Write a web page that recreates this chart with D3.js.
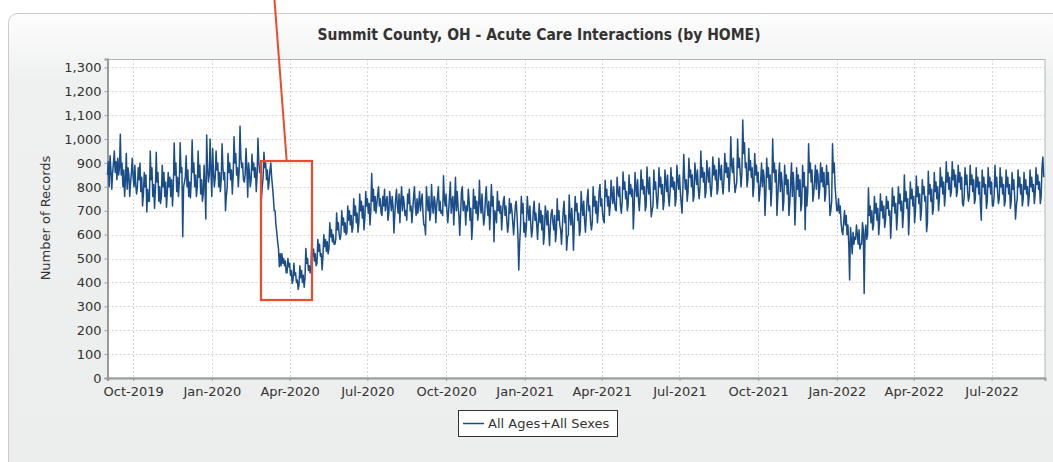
<!DOCTYPE html>
<html><head><meta charset="utf-8">
<script src="https://cdn.jsdelivr.net/npm/d3@7"></script>
<style>html,body{margin:0;padding:0;background:#fff;overflow:hidden}</style>
</head><body>
<svg id="chart" width="1053" height="462"></svg>
<script>
// Daily counts, starting Sun 1 Sep 2019 (rows are Sun..Sat weeks)
const counts2019 = [
850,905,800,930,870,790,860,
900,950,860,905,830,920,850,
880,1020,850,900,800,870,760,
830,940,790,880,850,760,820,
860,920,840,800,890,810,770,
800,880,830,900,780,840,720,
770,860,800,850,695,790,740,
740,950,830,880,760,810,710,
790,945,820,860,740,800,730,
760,890,800,860,760,820,715,
780,860,800,840,760,830,720,
800,983,850,900,780,840,760,
820,985,860,880,591,800,820,
840,930,800,870,760,820,753,
830,996,860,900,800,850,760,
800,950,840,890,770,830,740,
770,890,800,665,1017,880,820,
850,1000,870
];
const counts2020 = [
760,960,860,800,
840,950,870,900,800,860,780,
830,980,880,830,860,700,760,
800,940,860,900,830,870,770,
850,1010,900,940,850,880,800,
870,1054,920,880,900,830,820,
850,960,880,757,900,860,800,
830,936,870,900,840,880,780,
850,1003,900,860,880,750,800,
840,945,880,900,830,870,790,
820,870,900,840,800,755,700,
700,640,610,570,540,466,520,
470,520,480,500,470,490,440,
440,500,466,480,430,450,396,
410,480,430,440,400,410,371,
390,470,420,450,400,430,380,
420,542,480,500,450,470,440,
460,584,510,540,490,520,470,
480,580,530,560,510,520,452,
510,600,550,580,530,570,520,
540,650,590,620,570,600,560,
560,580,690,620,650,600,580,
600,700,640,670,610,650,600,
610,720,660,700,640,680,610,
630,750,680,720,650,690,610,
650,770,700,740,670,720,620,
670,780,720,750,690,730,640,
700,856,740,790,700,760,690,
730,770,800,720,750,690,680,
760,720,790,700,740,760,660,
690,780,740,700,760,720,607,
680,750,790,720,690,770,650,
740,800,700,760,730,680,700,
660,770,730,790,700,720,650,
700,760,800,720,680,750,690,
730,780,700,740,770,690,640,
640,600,800,740,700,760,660,
690,810,720,690,760,740,650,
720,760,800,700,740,690,700,
680,846,750,720,770,700,650,
700,760,820,690,740,760,640,
730,840,700,780,720,680,597,
690,780,800,700,740,720,640,
720,700,790,740,660,710,580,
640,790,710,760,690,740,660,
700,828,730,690,770,700,640,
670,750,800,720,680,740,620,
700,810,720,760,570,700,680,
650,780,700,740,690,720,620,
690,740,760,680,720,660,610,
640,750,690,730,700,650,600,
660,720,740,680,600,452,560,
630,760,690,730,610
];
const counts2021 = [
650,590,
640,760,700,660,720,650,590,
620,700,740,660,690,640,580,
660,730,650,700,620,680,560,
600,720,690,640,700,620,555,
640,690,705,650,620,680,570,
610,750,660,700,640,620,560,
630,700,740,650,680,535,590,
600,766,680,640,710,650,535,
650,760,700,730,660,690,596,
620,780,720,680,740,660,610,
680,750,790,700,720,650,620,
650,800,720,760,690,740,650,
700,780,810,720,750,690,660,
650,828,760,790,720,760,680,
720,828,770,730,800,740,704,
700,840,780,760,800,720,690,
740,862,790,820,750,780,700,
730,850,770,810,760,790,624,
710,860,800,760,830,750,700,
760,870,790,830,770,800,700,
720,883,810,770,840,760,675,
700,720,870,790,820,760,710,
760,880,800,840,770,810,705,
740,870,820,780,850,760,720,
780,880,800,840,790,820,720,
750,890,830,790,850,780,730,
690,800,935,840,790,830,740,
780,920,840,870,800,850,740,
760,900,850,810,870,790,750,
800,950,840,880,820,860,755,
780,910,860,820,880,800,760,
810,925,850,890,830,870,770,
790,920,870,830,890,810,770,
830,940,860,900,840,880,780,
850,1010,890,860,920,830,776,
800,820,1000,880,920,860,800,
860,1080,940,985,880,900,800,
830,960,870,910,840,880,760,
800,940,850,890,820,860,740,
780,830,900,800,870,840,680,
770,920,840,880,790,850,720,
790,1000,860,900,820,870,680,
760,840,900,780,860,820,700,
740,890,810,850,770,830,680,
730,820,900,760,860,800,640,
740,880,790,850,760,830,700,
730,890,800,860,620,800,720,
780,980,860,900,820,870,740,
770,830,890,790,870,850,750,
790,900,820,880,800,860,740,
770,890,810,860,790,680,700,
740,980,860,900,800,750
];
const counts2022 = [
700,
700,750,690,720,650,615,600,
650,700,640,680,600,640,560,
410,630,580,520,610,560,590,
580,640,600,560,620,540,560,
560,650,620,354,600,640,580,
600,795,680,720,650,700,620,
640,760,690,730,660,710,600,
650,770,700,740,670,720,630,
660,760,710,740,680,700,585,
670,795,720,760,690,730,620,
680,800,730,770,700,740,630,
690,850,740,780,710,750,600,
690,820,750,790,720,760,650,
700,845,760,800,730,770,660,
700,830,770,800,740,760,612,
650,865,770,810,740,790,685,
710,860,780,820,750,800,700,
750,880,800,840,770,820,720,
770,905,820,860,790,840,760,
780,905,830,870,800,850,760,
780,890,820,860,790,840,730,
720,760,880,810,850,780,740,
760,890,810,850,780,830,730,
750,880,800,840,770,820,720,
660,870,800,840,770,810,710,
740,880,800,840,770,820,720,
720,760,890,800,840,780,730,
750,880,800,840,770,810,720,
740,870,800,840,770,810,710,
740,860,790,830,760,665,720,
750,870,800,840,770,810,720,
750,860,790,830,770,800,720,
760,870,800,840,780,810,730,
770,880,810,850,790,820,730,
760,880,925,840
];
const yTicks = [0,100,200,300,400,500,600,700,800,900,1000,1100,1200,1300];
const xTickDates = ["2019-10-01","2020-01-01","2020-04-01","2020-07-01","2020-10-01","2021-01-01","2021-04-01","2021-07-01","2021-10-01","2022-01-01","2022-04-01","2022-07-01"];
const seriesName = "All Ages+All Sexes";
const titleText = "Summit County, OH - Acute Care Interactions (by HOME)";
const yLabel = "Number of Records";

const start = Date.UTC(2019,8,1);
const allCounts = counts2019.concat(counts2020, counts2021, counts2022);
const data = allCounts.map((v,i)=>({date:new Date(start + i*86400000), value:v}));

const svg = d3.select("#chart");
const L=107.5, R=1045, T=59, B=378;
const x = d3.scaleUtc().domain([new Date(start), new Date(Date.UTC(2022,8,1,12))]).range([L,R]);
const y = d3.scaleLinear().domain([0,1335]).range([B,T]);

// panel background
const defs = svg.append("defs");
const g = defs.append("linearGradient").attr("id","pg").attr("x1",0).attr("y1",0).attr("x2",0).attr("y2",1);
g.append("stop").attr("offset","0").attr("stop-color","#fdfdfd");
g.append("stop").attr("offset","0.14").attr("stop-color","#eff1f0");
g.append("stop").attr("offset","1").attr("stop-color","#eceeed");
svg.append("rect").attr("x",8.5).attr("y",13.5).attr("width",1070).attr("height",470)
  .attr("rx",9).attr("fill","url(#pg)").attr("stroke","#c9cbca");

// plot
svg.append("rect").attr("x",L).attr("y",T).attr("width",R-L).attr("height",B-T).attr("fill","#fff");

// grid
const grid = svg.append("g").attr("stroke","#d6d6d6").attr("stroke-dasharray","2,2").attr("stroke-width",1);
yTicks.forEach(t=>{ if(t>0) grid.append("line").attr("x1",L).attr("x2",R).attr("y1",Math.round(y(t))+0.5).attr("y2",Math.round(y(t))+0.5); });
const xTicks = xTickDates.map(s=>new Date(s+"T00:00:00Z"));
xTicks.forEach(t=>{ grid.append("line").attr("y1",T).attr("y2",B).attr("x1",Math.round(x(t))+0.5).attr("x2",Math.round(x(t))+0.5); });

// plot outline
svg.append("rect").attr("x",L).attr("y",T+0.5).attr("width",R-L).attr("height",B-T-0.5).attr("fill","none").attr("stroke","#b5b5b5");

// axes
const fmtY = d3.format(",");
const yAxis = d3.axisLeft(y).tickValues(yTicks).tickFormat(fmtY).tickSize(3).tickPadding(3);
const ya = svg.append("g").attr("transform",`translate(${L},0)`).call(yAxis);
const xAxis = d3.axisBottom(x).tickValues(xTicks).tickFormat(d3.utcFormat("%b-%Y")).tickSize(3).tickPadding(6);
const xa = svg.append("g").attr("transform",`translate(0,${B})`).call(xAxis);
[ya,xa].forEach(a=>{
  a.select(".domain").attr("stroke","#9a9a9a").attr("stroke-width",2);
  a.selectAll(".tick line").attr("stroke","#9a9a9a");
  a.selectAll("text").attr("fill","#333").style("font-family","DejaVu Sans").style("font-size","13px");
});

// line
const line = d3.line().x(d=>x(d.date)).y(d=>y(d.value));
svg.append("path").datum(data).attr("d",line).attr("fill","none").attr("stroke","#1b4d88").attr("stroke-width",1.5).attr("stroke-linejoin","round");

// title
svg.append("text").attr("x",539).attr("y",40).attr("text-anchor","middle")
  .style("font-family","DejaVu Sans Condensed").style("font-weight","bold").style("font-size","15.5px").attr("fill","#333").text(titleText);

// y label
svg.append("text").attr("transform","translate(50,218) rotate(-90)").attr("text-anchor","middle")
  .style("font-family","DejaVu Sans").style("font-size","13px").attr("fill","#333").text(yLabel);

// legend
svg.append("rect").attr("x",458.5).attr("y",410.5).attr("width",159).attr("height",26).attr("fill","#fff").attr("stroke","#333");
svg.append("line").attr("x1",463).attr("x2",484).attr("y1",423.5).attr("y2",423.5).attr("stroke","#1b4d88").attr("stroke-width",1.5);
svg.append("text").attr("x",488).attr("y",428).style("font-family","DejaVu Sans").style("font-size","13px").attr("fill","#333").text(seriesName);

// red annotation
svg.append("line").attr("x1",274.5).attr("y1",0).attr("x2",286.7).attr("y2",161).attr("stroke","#ec4a2c").attr("stroke-width",2);
svg.append("rect").attr("x",261).attr("y",161).attr("width",51).attr("height",139).attr("fill","none").attr("stroke","#ec4a2c").attr("stroke-width",2.2);
</script>
</body></html>
